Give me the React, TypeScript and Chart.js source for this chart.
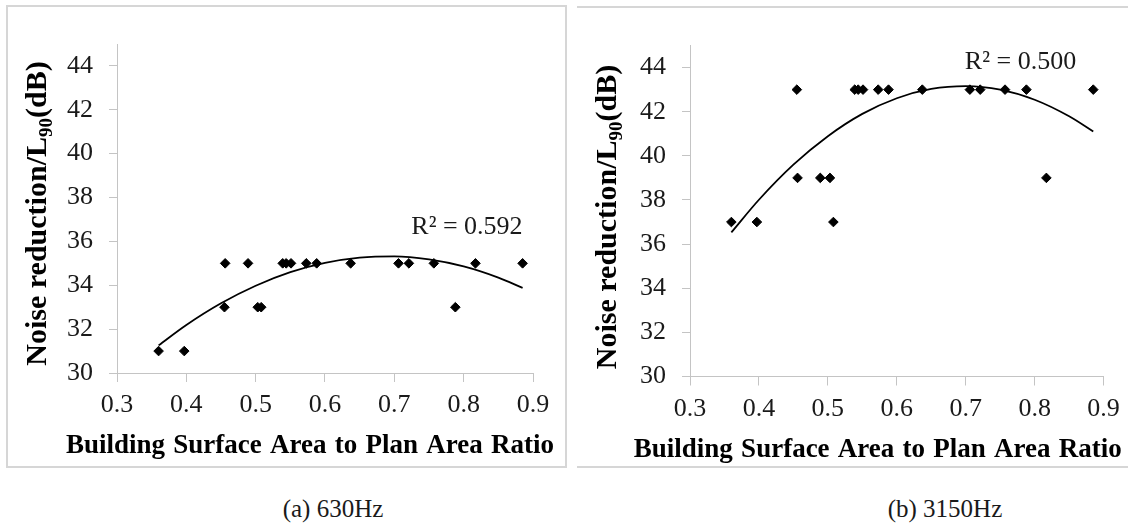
import React, { useEffect, useRef } from "react";
import { Chart, registerables } from "chart.js";

Chart.register(...registerables);

// ---------- data ----------
const siteRatios = [0.36, 0.397, 0.455, 0.456, 0.489, 0.503, 0.508, 0.539, 0.544, 0.551, 0.573, 0.588, 0.637, 0.706, 0.721, 0.757, 0.788, 0.817, 0.885];
const noise630 = [31, 31, 33, 35, 35, 33, 33, 35, 35, 35, 35, 35, 35, 35, 35, 35, 33, 35, 35];
const noise3150 = [37, 37, 43, 39, 39, 39, 37, 43, 43, 43, 43, 43, 43, 43, 43, 43, 43, 39, 43];

const trendX = [0.36, 0.4, 0.45, 0.5, 0.55, 0.6, 0.65, 0.7, 0.75, 0.8, 0.85, 0.885];
const trend630 = [31.26, 32.19, 33.18, 33.98, 34.6, 35.02, 35.26, 35.32, 35.18, 34.86, 34.35, 33.88];
const trend3150 = [36.53, 38.01, 39.6, 40.89, 41.9, 42.61, 43.03, 43.16, 43.0, 42.54, 41.79, 41.1];

const xTickValues = [0.3, 0.4, 0.5, 0.6, 0.7, 0.8, 0.9];
const xTickLabels = ["0.3", "0.4", "0.5", "0.6", "0.7", "0.8", "0.9"];
const yTickValues = [30, 32, 34, 36, 38, 40, 42, 44];
const yTickLabels = ["30", "32", "34", "36", "38", "40", "42", "44"];

const xTitle = "Building Surface Area to Plan Area Ratio";
const yTitleMain = "Noise reduction/L";
const yTitleSub = "90";
const yTitleEnd = "(dB)";
const r2Text630 = "R² = 0.592";
const r2Text3150 = "R² = 0.500";
const caption630 = "(a) 630Hz";
const caption3150 = "(b) 3150Hz";

const SERIF = '"Liberation Serif", "Times New Roman", serif';

const annotatePlugin = {
  id: "annotate",
  afterDraw(chart: any, _args: any, opts: any) {
    const { ctx, chartArea } = chart;
    const xs = chart.scales.x;
    const ys = chart.scales.y;
    ctx.save();
    // R² label
    ctx.font = `26px ${SERIF}`;
    ctx.fillStyle = "#1a1a1a";
    ctx.textAlign = "left";
    ctx.textBaseline = "alphabetic";
    ctx.fillText(opts.r2, xs.getPixelForValue(opts.r2x), ys.getPixelForValue(opts.r2y));

    // x-axis title
    ctx.font = `bold 27px ${SERIF}`;
    ctx.fillStyle = "#000";
    ctx.textAlign = "center";
    (ctx as any).wordSpacing = `${opts.wordSpacing}px`;
    ctx.fillText(
      xTitle,
      (chartArea.left + chartArea.right) / 2 + opts.xTitleShift,
      chartArea.bottom + opts.xTitleOffset
    );
    (ctx as any).wordSpacing = "0px";

    // y-axis title (rotated, with subscript)
    const mainFont = `bold 30px ${SERIF}`;
    const subFont = `bold 19px ${SERIF}`;
    ctx.font = mainFont;
    const w1 = ctx.measureText(yTitleMain).width;
    const w3 = ctx.measureText(yTitleEnd).width;
    ctx.font = subFont;
    const w2 = ctx.measureText(yTitleSub).width;
    const total = w1 + w2 + w3;
    const cx = chartArea.left + opts.yTitleBaseline;
    const cy = (chartArea.top + chartArea.bottom) / 2 + opts.yTitleShift;
    ctx.translate(cx, cy);
    ctx.rotate(-Math.PI / 2);
    ctx.textAlign = "left";
    let pos = -total / 2;
    ctx.font = mainFont;
    ctx.fillText(yTitleMain, pos, 0);
    pos += w1;
    ctx.font = subFont;
    ctx.fillText(yTitleSub, pos, 6);
    pos += w2;
    ctx.font = mainFont;
    ctx.fillText(yTitleEnd, pos, 0);
    ctx.restore();
  },
};

type PanelProps = {
  left: number;
  top: number;
  width: number;
  height: number;
  padTop: number;
  padRight: number;
  yAxisWidth: number;
  xAxisHeight: number;
  values: number[];
  trend: number[];
  r2: string;
  r2x: number;
  r2y: number;
  xTitleShift: number;
  yTitleBaseline: number;
  yTitleShift: number;
};

function Panel(p: PanelProps) {
  const ref = useRef<HTMLCanvasElement | null>(null);
  useEffect(() => {
    if (!ref.current) return;
    const axisColor = "#c4c4c4";
    const chart = new Chart(ref.current, {
      type: "scatter",
      data: {
        datasets: [
          {
            data: siteRatios.map((x, i) => ({ x, y: p.values[i] })),
            pointStyle: "rectRot",
            pointRadius: 4.8,
            backgroundColor: "#000",
            borderColor: "#000",
            borderWidth: 1,
            order: 1,
          } as any,
          {
            data: trendX.map((x, i) => ({ x, y: p.trend[i] })),
            showLine: true,
            pointRadius: 0,
            borderColor: "#000",
            borderWidth: 1.8,
            cubicInterpolationMode: "monotone",
            fill: false,
            order: 0,
          } as any,
        ],
      },
      options: {
        responsive: false,
        animation: false,
        devicePixelRatio: 1,
        layout: { padding: { left: 0, top: p.padTop, right: p.padRight, bottom: 0 } },
        plugins: {
          legend: { display: false },
          tooltip: { enabled: false },
          annotate: {
            r2: p.r2,
            r2x: p.r2x,
            r2y: p.r2y,
            wordSpacing: 1.5,
            xTitleShift: p.xTitleShift,
            xTitleOffset: 80,
            yTitleBaseline: p.yTitleBaseline,
            yTitleShift: p.yTitleShift,
          },
        } as any,
        scales: {
          x: {
            type: "linear",
            min: 0.3,
            max: 0.9,
            afterBuildTicks: (scale: any) => {
              scale.ticks = xTickValues.map((v) => ({ value: v }));
            },
            afterFit: (scale: any) => {
              scale.height = p.xAxisHeight;
            },
            grid: { drawOnChartArea: false, drawTicks: true, tickLength: 9, color: axisColor, lineWidth: 1 },
            border: { display: true, color: axisColor, width: 1 },
            ticks: {
              font: { family: "Liberation Serif", size: 26 },
              color: "#1a1a1a",
              padding: 8,
              maxRotation: 0,
              autoSkip: false,
              callback: (_v: any, i: number) => xTickLabels[i],
            },
          },
          y: {
            type: "linear",
            min: 30,
            max: 45,
            afterBuildTicks: (scale: any) => {
              scale.ticks = yTickValues.map((v) => ({ value: v }));
            },
            afterFit: (scale: any) => {
              scale.width = p.yAxisWidth;
            },
            grid: { drawOnChartArea: false, drawTicks: true, tickLength: 8, color: axisColor, lineWidth: 1 },
            border: { display: true, color: axisColor, width: 1 },
            ticks: {
              font: { family: "Liberation Serif", size: 26 },
              color: "#1a1a1a",
              padding: 16,
              autoSkip: false,
              callback: (_v: any, i: number) => yTickLabels[i],
            },
          },
        },
      },
      plugins: [annotatePlugin as any],
    });
    return () => chart.destroy();
  }, []);
  return (
    <canvas
      ref={ref}
      width={p.width}
      height={p.height}
      style={{ position: "absolute", left: p.left, top: p.top, width: p.width, height: p.height }}
    />
  );
}

export default function App() {
  const border = "#d6d6d6";
  return (
    <div
      style={{
        position: "fixed",
        left: 0,
        top: 0,
        width: 1128,
        height: 528,
        background: "#fff",
        overflow: "hidden",
        fontFamily: SERIF,
      }}
    >
      {/* left panel frame */}
      <div
        style={{
          position: "absolute",
          left: 6,
          top: 5,
          width: 561,
          height: 463,
          border: `2px solid ${border}`,
          boxSizing: "border-box",
        }}
      />
      {/* right panel frame (top & bottom rules) */}
      <div style={{ position: "absolute", left: 577, top: 6, width: 551, height: 2, background: border }} />
      <div style={{ position: "absolute", left: 577, top: 466, width: 551, height: 2, background: border }} />

      <Panel
        left={0}
        top={0}
        width={570}
        height={466}
        padTop={44}
        padRight={37}
        yAxisWidth={117}
        xAxisHeight={93}
        values={noise630}
        trend={trend630}
        r2={r2Text630}
        r2x={0.7245}
        r2y={36.34}
        xTitleShift={-15}
        yTitleBaseline={-71}
        yTitleShift={5}
      />
      <Panel
        left={572}
        top={0}
        width={556}
        height={468}
        padTop={45.5}
        padRight={24.4}
        yAxisWidth={118}
        xAxisHeight={91.5}
        values={noise3150}
        trend={trend3150}
        r2={r2Text3150}
        r2x={0.6987}
        r2y={43.93}
        xTitleShift={-19}
        yTitleBaseline={-74}
        yTitleShift={6}
      />

      <div
        style={{
          position: "absolute",
          left: 233,
          width: 200,
          top: 494,
          textAlign: "center",
          fontSize: 25,
          lineHeight: "30px",
          color: "#1a1a1a",
        }}
      >
        {caption630}
      </div>
      <div
        style={{
          position: "absolute",
          left: 845,
          width: 200,
          top: 494,
          textAlign: "center",
          fontSize: 25,
          lineHeight: "30px",
          color: "#1a1a1a",
        }}
      >
        {caption3150}
      </div>
    </div>
  );
}
